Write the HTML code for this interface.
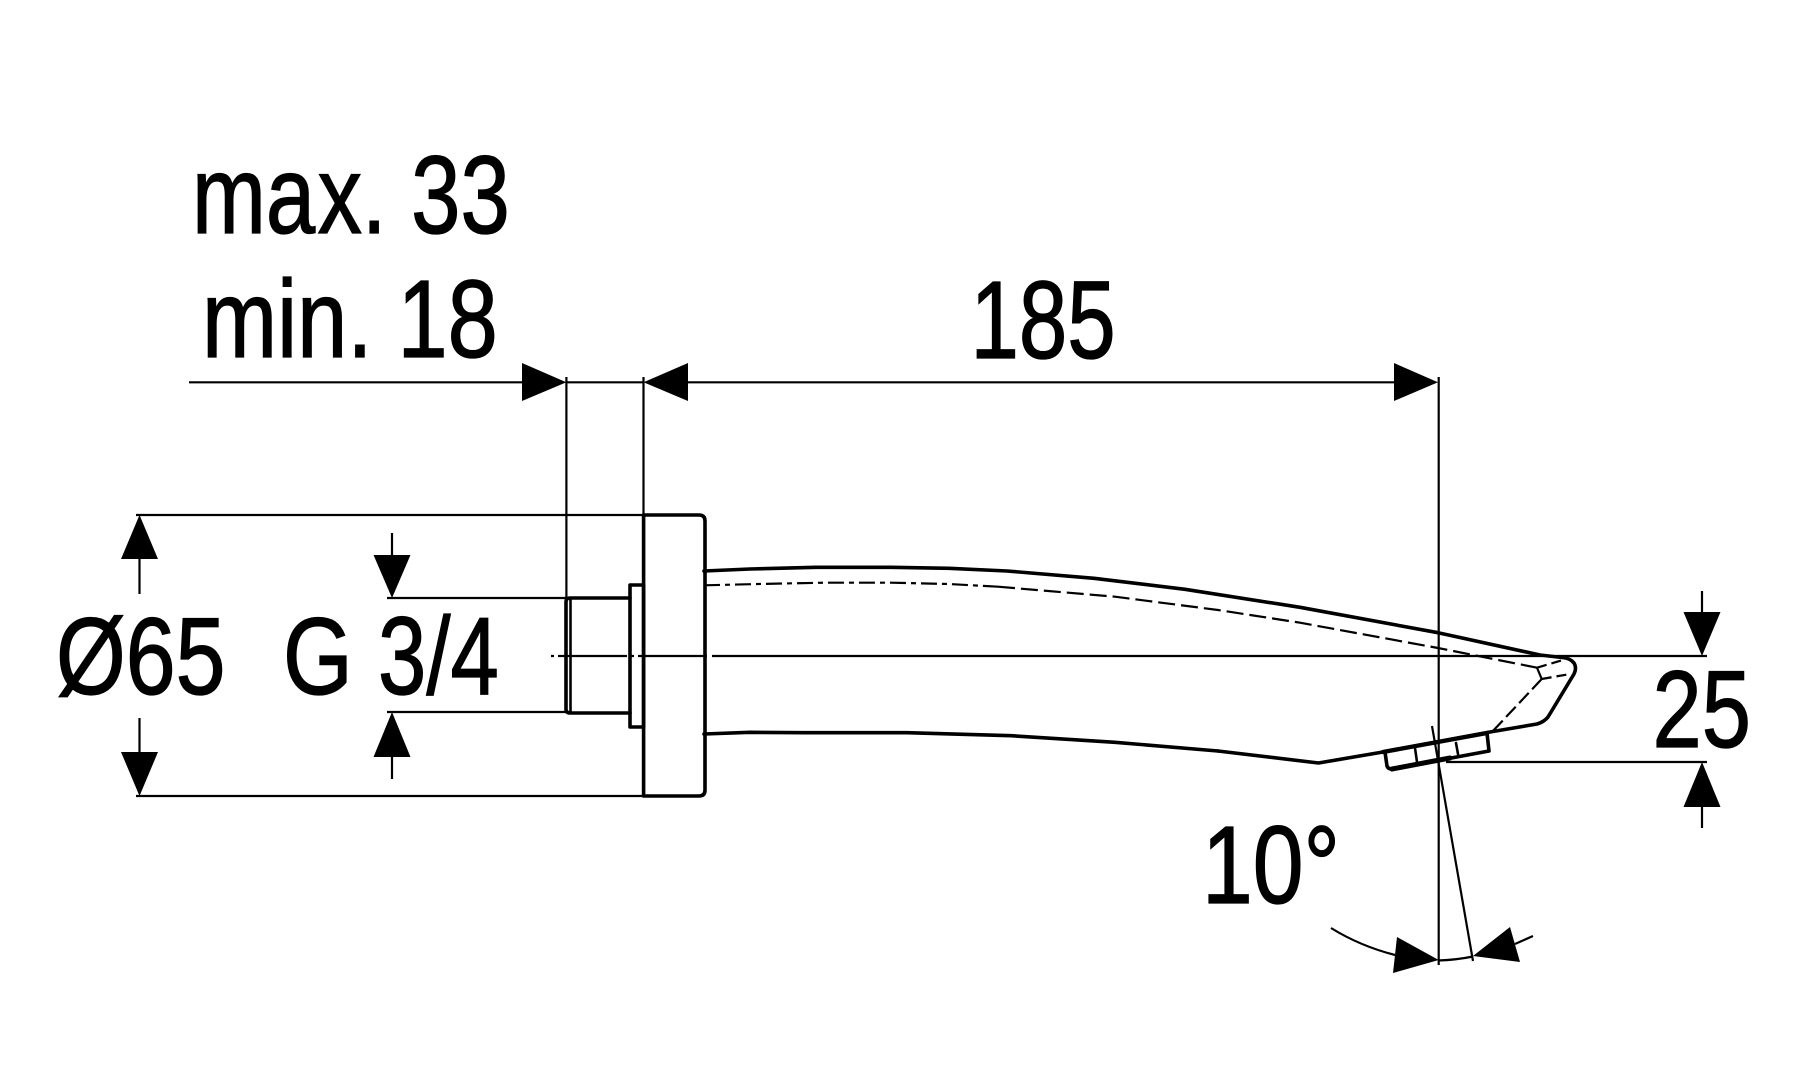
<!DOCTYPE html>
<html>
<head>
<meta charset="utf-8">
<style>
html,body{margin:0;padding:0;background:#fff;width:1815px;height:1080px;overflow:hidden}
svg{display:block}
text{font-family:"Liberation Sans",sans-serif;font-size:110px;fill:#000;stroke:#000;stroke-width:1.3px;font-kerning:none}
</style>
</head>
<body>
<svg width="1815" height="1080" viewBox="0 0 1815 1080" xmlns="http://www.w3.org/2000/svg">
<rect width="1815" height="1080" fill="#fff"/>
<!-- text -->
<text transform="translate(192,233) scale(.806,1)">ma<tspan dx="3">x. 33</tspan></text>
<text transform="translate(202,357) scale(.82,1)">min. 18</text>
<text transform="translate(970.500,358) scale(.791,1)">185</text>
<text transform="translate(56,694) scale(.815,1)">Ø65</text>
<text transform="translate(283,694) scale(.815,1)">G</text>
<text transform="translate(378,694) scale(.79,1)">3/4</text>
<text transform="translate(1652.500,747) scale(.805,1)">25</text>
<text transform="translate(1202,903) scale(.83,1)">10°</text>

<!-- thin dimension lines -->
<g fill="none" stroke="#000" stroke-width="2.2">
<path d="M189 382.3H522M566 382.3H644M688 382.3H1396"/>
<path d="M566.4 377V598M643.5 377V515"/>
<path d="M1438.7 377V965"/>
<path d="M136 515H644M136 796H644"/>
<path d="M139.5 559V594M139.5 718V752"/>
<path d="M392 533V555M392 757V779"/>
<path d="M387 598H566M387 712H566"/>
<path d="M712 656H1707"/>
<path d="M551 656H554M558 656H627M631 656H634M638 656H707"/>
<path d="M1702 591V612M1702 807V828"/>
<path d="M1446 762H1707"/>
<path d="M1432 726L1473 961"/>
<path d="M1331 928Q1360 946 1395 955"/>
<path d="M1438 960.5Q1456 960 1473 956.5"/>
<path d="M1515 944L1533 936"/>
</g>

<!-- arrowheads -->
<g fill="#000" stroke="none">
<path d="M522 363L566.4 382.3L522 401Z"/>
<path d="M688 363L643.5 382.3L688 401Z"/>
<path d="M1394 363L1438 382.3L1394 401Z"/>
<path d="M121 559H158L139.5 515Z"/>
<path d="M121 752H158L139.5 796Z"/>
<path d="M373.500 555H410.500L392 598Z"/>
<path d="M373.500 757H410.500L392 712Z"/>
<path d="M1683.500 612H1720.500L1702 656Z"/>
<path d="M1683.500 807H1720.500L1702 762Z"/>
<path d="M1397 937L1438.700 960L1393 973Z"/>
<path d="M1473 956L1510 927L1520 962Z"/>
</g>

<!-- object outlines -->
<g fill="none" stroke="#000" stroke-width="3.6" stroke-linejoin="round" stroke-linecap="round">
<path d="M643.6 515H699Q705 515 705 521V790Q705 796 699 796H643.6Z"/>
<path d="M630 585H643.600V727H630Z"/>
<path d="M630 598H570Q566 598 566 602V709Q566 713 570 713H630"/>
<path d="M570.500 598V713" stroke-width="2.600"/>
<path d="M704 571L750 569L816 567.300L891 567.300L949 568.300L1007 571L1094 578.300L1185 589.300L1300 607.300L1438 632.700L1540 655L1562 657.500Q1570 658 1574 663Q1577 668 1574 674L1548 717Q1544 722 1537 724L1490 732L1383 752L1318.500 763L1218 751"/>
<path d="M704 734L750 732.300L804 732.700L907 732.700L1011 735.700L1115 742.300L1218 751"/>
<path d="M1385 752L1387 766Q1388 769 1392 769L1489 751L1487 733"/>
<path d="M1415 748L1417 762M1456 743L1458 754" stroke-width="2.600"/>
<path d="M1383 752L1487 733" stroke-width="4.400"/>
<path d="M1392 769L1450 758" stroke-width="5"/>
</g>

<!-- hidden lines -->
<g fill="none" stroke="#000" stroke-width="2.200">
<path stroke-dasharray="16 5 5 5" d="M704 585.300L758 584L824 582.700L891 582.700L949 584L998 586.700"/>
<path stroke-dasharray="17 6" d="M998 586.700L1115 596.700L1218 610L1300 622.700L1438 648L1537 667.700"/>
<path stroke-dasharray="10 5" d="M1537 667.700L1563 660"/>
<path d="M1537 667.700L1541.700 679"/>
<path stroke-dasharray="10 5" d="M1541.700 679L1570 674"/>
<path stroke-dasharray="14 5" d="M1541.700 679L1492 732"/>
</g>
</svg>
</body>
</html>
